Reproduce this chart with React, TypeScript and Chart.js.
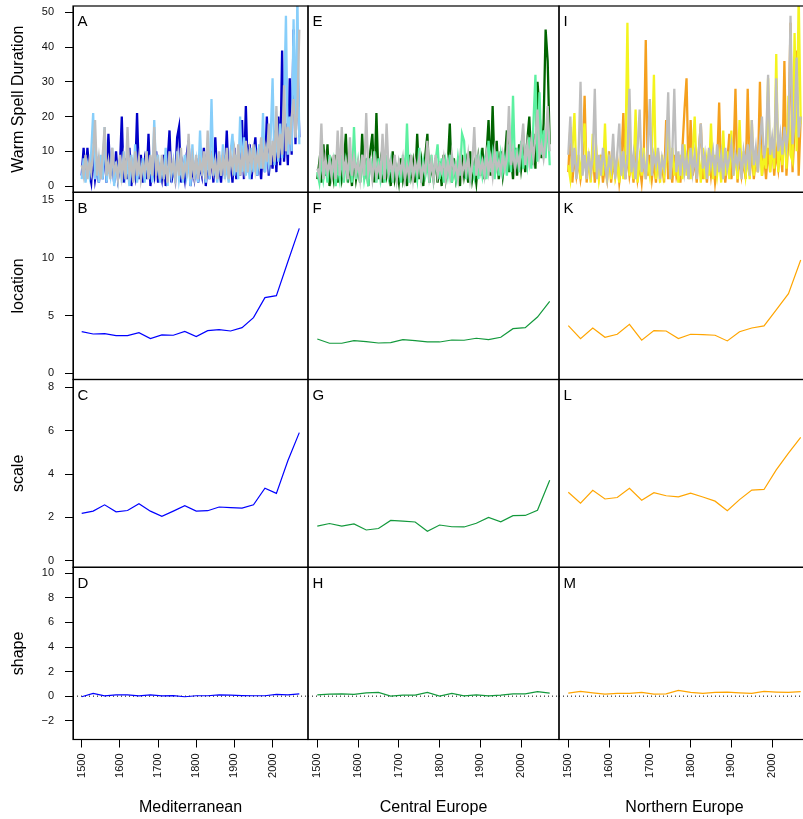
import React, { useEffect, useRef } from "react";
import { Chart, registerables } from "chart.js";

Chart.register(...registerables);

const FONT = "'Liberation Sans', Arial, Helvetica, sans-serif";
const W = 810;
const H = 819;
const X_MIN = 1477.2;
const X_MAX = 2092.8;

// ---------- categories ----------
const yearsDense = [
  1500, 1505, 1510, 1515, 1520, 1525, 1530, 1535, 1540, 1545,
  1550, 1555, 1560, 1565, 1570, 1575, 1580, 1585, 1590, 1595,
  1600, 1605, 1610, 1615, 1620, 1625, 1630, 1635, 1640, 1645,
  1650, 1655, 1660, 1665, 1670, 1675, 1680, 1685, 1690, 1695,
  1700, 1705, 1710, 1715, 1720, 1725, 1730, 1735, 1740, 1745,
  1750, 1755, 1760, 1765, 1770, 1775, 1780, 1785, 1790, 1795,
  1800, 1805, 1810, 1815, 1820, 1825, 1830, 1835, 1840, 1845,
  1850, 1855, 1860, 1865, 1870, 1875, 1880, 1885, 1890, 1895,
  1900, 1905, 1910, 1915, 1920, 1925, 1930, 1935, 1940, 1945,
  1950, 1955, 1960, 1965, 1970, 1975, 1980, 1985, 1990, 1995,
  2000, 2005, 2010, 2015, 2020, 2025, 2030, 2035, 2040, 2045,
  2050, 2055, 2060, 2065, 2070,
];
const yearsSmooth = [
  1500, 1530, 1560, 1590, 1620, 1650, 1680, 1710, 1740, 1770,
  1800, 1830, 1860, 1890, 1920, 1950, 1980, 2010, 2040, 2070,
];

// ---------- warm spell duration (top row) ----------
const medDark = [
  3, 11, 2, 11, 4, 1, 9, 2, 6, 1,
  8, 2, 12, 1, 15, 3, 7, 1, 10, 2,
  5, 20, 1, 8, 2, 11, 0, 6, 3, 21,
  2, 9, 1, 7, 2, 15, 0, 6, 3, 10,
  1, 5, 2, 9, 0, 7, 16, 1, 5, 2,
  14, 17, 1, 6, 2, 9, 13, 0, 5, 2,
  8, 1, 6, 3, 11, 0, 7, 2, 10, 1,
  14, 2, 6, 1, 9, 3, 16, 2, 8, 1,
  11, 2, 7, 3, 19, 2, 23, 4, 12, 2,
  9, 14, 3, 8, 2, 12, 4, 20, 3, 10,
  5, 16, 4, 20, 6, 39, 7, 18, 6, 31,
  9, 45, 12, 37, 14,
];
const medLight = [
  2, 8, 1, 6, 3, 10, 21, 2, 7, 1,
  9, 2, 17, 1, 6, 3, 11, 0, 7, 2,
  8, 1, 10, 3, 6, 0, 9, 2, 12, 1,
  6, 3, 8, 1, 10, 2, 7, 1, 19, 3,
  9, 1, 6, 2, 11, 0, 8, 3, 7, 1,
  10, 2, 6, 1, 9, 3, 7, 0, 12, 2,
  7, 1, 16, 3, 8, 1, 10, 2, 25, 3,
  7, 1, 9, 3, 12, 2, 6, 1, 10, 15,
  3, 9, 2, 20, 4, 14, 3, 8, 2, 11,
  4, 9, 3, 12, 5, 21, 4, 10, 6, 14,
  31, 6, 15, 7, 18, 8, 22, 49, 9, 20,
  10, 48, 14, 55, 12,
];
const medGrey = [
  6, 3, 9, 2, 7, 4, 10, 19, 3, 8,
  2, 9, 17, 3, 7, 2, 11, 4, 6, 2,
  9, 3, 8, 2, 17, 4, 7, 1, 10, 3,
  8, 2, 6, 4, 10, 2, 9, 3, 17, 4,
  7, 2, 9, 3, 6, 1, 10, 4, 7, 2,
  8, 3, 11, 2, 6, 4, 15, 2, 8, 3,
  9, 2, 7, 4, 10, 2, 16, 3, 8, 4,
  7, 2, 10, 3, 8, 4, 11, 2, 9, 5,
  10, 4, 12, 3, 9, 5, 13, 4, 10, 6,
  12, 5, 9, 6, 14, 5, 11, 7, 18, 6,
  13, 7, 23, 8, 15, 9, 29, 10, 17, 12,
  20, 25, 14, 22, 45,
];
const cenDark = [
  2, 7, 1, 12, 3, 12, 0, 6, 2, 9,
  1, 8, 2, 6, 15, 1, 7, 0, 9, 2,
  6, 1, 15, 2, 8, 0, 10, 15, 1, 21,
  2, 7, 1, 9, 3, 6, 0, 10, 2, 5,
  1, 8, 2, 6, 0, 9, 3, 7, 1, 15,
  2, 7, 0, 9, 15, 1, 6, 2, 8, 1,
  7, 0, 9, 2, 6, 18, 1, 8, 2, 6,
  0, 9, 3, 7, 1, 10, 2, 6, 1, 8,
  3, 11, 2, 9, 19, 3, 23, 4, 13, 2,
  10, 3, 8, 16, 4, 9, 2, 11, 3, 12,
  5, 10, 4, 13, 20, 6, 15, 5, 30, 22,
  8, 18, 45, 36, 12,
];
const cenLight = [
  4, 1, 8, 2, 6, 1, 9, 3, 7, 0,
  6, 2, 9, 1, 7, 3, 8, 1, 17, 2,
  7, 1, 9, 2, 6, 0, 8, 3, 10, 1,
  8, 2, 6, 1, 9, 3, 7, 1, 8, 2,
  6, 1, 9, 2, 18, 1, 7, 3, 6, 2,
  11, 1, 7, 3, 6, 1, 9, 2, 7, 12,
  2, 8, 1, 7, 3, 9, 1, 6, 2, 8,
  3, 15, 13, 2, 8, 1, 7, 3, 9, 2,
  8, 3, 7, 2, 13, 4, 9, 2, 10, 3,
  9, 4, 8, 3, 12, 4, 26, 5, 11, 4,
  13, 5, 10, 6, 14, 5, 18, 32, 7, 27,
  9, 16, 8, 20, 6,
];
const cenGrey = [
  5, 3, 18, 2, 8, 4, 7, 3, 9, 2,
  16, 3, 17, 4, 7, 2, 14, 3, 8, 4,
  7, 2, 9, 3, 21, 4, 7, 2, 8, 3,
  6, 3, 15, 2, 18, 4, 7, 3, 9, 2,
  7, 4, 8, 2, 6, 3, 9, 2, 7, 4,
  8, 2, 6, 4, 13, 3, 7, 2, 9, 3,
  6, 4, 8, 2, 7, 3, 9, 4, 6, 2,
  8, 3, 7, 4, 9, 2, 6, 17, 3, 8,
  4, 7, 3, 9, 4, 8, 3, 10, 5, 7,
  4, 9, 5, 8, 23, 6, 10, 5, 9, 6,
  11, 18, 6, 12, 7, 13, 8, 14, 22, 9,
  12, 8, 13, 23, 10,
];
const norOrange = [
  4, 17, 1, 9, 3, 7, 2, 6, 26, 1,
  8, 2, 11, 1, 7, 3, 9, 1, 6, 2,
  10, 1, 7, 3, 8, 1, 6, 21, 2, 9,
  3, 7, 1, 10, 2, 6, 1, 8, 42, 3,
  9, 2, 7, 1, 10, 3, 6, 1, 19, 2,
  8, 1, 9, 3, 6, 1, 11, 22, 31, 2,
  19, 3, 8, 1, 10, 18, 2, 7, 1, 9,
  3, 8, 1, 6, 24, 2, 9, 1, 7, 15,
  2, 8, 28, 1, 9, 3, 7, 2, 28, 3,
  10, 2, 8, 4, 30, 3, 9, 2, 11, 4,
  13, 3, 10, 5, 12, 4, 36, 3, 14, 47,
  4, 16, 39, 3, 20,
];
const norYellow = [
  6, 2, 10, 21, 3, 9, 2, 12, 18, 3,
  8, 1, 15, 4, 9, 2, 7, 3, 18, 1,
  9, 2, 11, 3, 7, 1, 10, 2, 8, 47,
  3, 9, 2, 22, 1, 8, 3, 11, 2, 7,
  3, 10, 32, 2, 8, 1, 9, 3, 7, 20,
  2, 11, 3, 8, 1, 9, 2, 12, 3, 8,
  2, 10, 20, 3, 9, 1, 11, 2, 8, 3,
  18, 2, 9, 3, 8, 1, 16, 3, 10, 2,
  16, 3, 9, 2, 19, 4, 10, 3, 8, 2,
  19, 3, 10, 4, 12, 3, 9, 5, 31, 4,
  12, 5, 38, 4, 14, 6, 16, 5, 26, 9,
  7, 44, 10, 55, 18,
];
const norGrey = [
  9, 20, 4, 11, 2, 8, 30, 3, 9, 2,
  10, 4, 8, 28, 2, 9, 3, 11, 6, 2,
  8, 5, 15, 2, 9, 18, 3, 10, 2, 8,
  28, 4, 9, 2, 11, 22, 4, 8, 2, 10,
  25, 3, 9, 6, 11, 2, 8, 5, 10, 27,
  2, 9, 28, 4, 10, 3, 12, 4, 8, 2,
  11, 4, 9, 2, 10, 18, 5, 9, 2, 11,
  6, 10, 3, 12, 4, 9, 2, 11, 5, 8,
  12, 3, 9, 6, 11, 2, 10, 6, 12, 3,
  19, 6, 11, 4, 13, 20, 8, 12, 32, 9,
  14, 8, 31, 10, 15, 9, 17, 11, 16, 49,
  12, 18, 37, 14, 20,
];

// ---------- GEV parameters ----------
const medLocation = [3.6, 3.4, 3.43, 3.26, 3.26, 3.52, 3.0, 3.32, 3.29, 3.63, 3.17, 3.69, 3.78, 3.66, 3.95, 4.82, 6.55, 6.72, 9.66, 12.55];
const cenLocation = [2.97, 2.6, 2.6, 2.82, 2.74, 2.62, 2.65, 2.91, 2.82, 2.71, 2.71, 2.88, 2.86, 3.03, 2.91, 3.12, 3.86, 3.95, 4.87, 6.23];
const norLocation = [4.12, 3.0, 3.92, 3.12, 3.38, 4.24, 2.86, 3.69, 3.66, 3.0, 3.38, 3.34, 3.29, 2.8, 3.6, 3.92, 4.1, 5.48, 6.89, 9.81];

const medScale = [2.19, 2.29, 2.58, 2.26, 2.32, 2.63, 2.29, 2.05, 2.29, 2.54, 2.29, 2.31, 2.48, 2.45, 2.43, 2.58, 3.35, 3.11, 4.61, 5.91];
const cenScale = [1.6, 1.72, 1.6, 1.7, 1.42, 1.49, 1.86, 1.83, 1.79, 1.36, 1.65, 1.57, 1.56, 1.73, 2.0, 1.8, 2.08, 2.09, 2.33, 3.71];
const norScale = [3.16, 2.66, 3.25, 2.85, 2.92, 3.34, 2.79, 3.14, 3.0, 2.95, 3.12, 2.94, 2.75, 2.31, 2.82, 3.26, 3.29, 4.19, 4.96, 5.69];

const medShape = [-0.05, 0.22, 0.03, 0.11, 0.11, 0.03, 0.11, 0.03, 0.05, -0.05, 0.03, 0.03, 0.11, 0.08, 0.05, 0.03, 0.03, 0.14, 0.11, 0.19];
const cenShape = [0.11, 0.16, 0.19, 0.14, 0.27, 0.3, 0.0, 0.08, 0.08, 0.3, 0.0, 0.22, 0.03, 0.11, 0.03, 0.08, 0.19, 0.19, 0.36, 0.25];
const norShape = [0.25, 0.38, 0.27, 0.16, 0.22, 0.22, 0.3, 0.16, 0.19, 0.47, 0.3, 0.22, 0.3, 0.33, 0.27, 0.22, 0.38, 0.33, 0.3, 0.36];

// ---------- ticks & labels ----------
const yearTicks = [1500, 1600, 1700, 1800, 1900, 2000];
const durationTicks = [0, 10, 20, 30, 40, 50];
const locationTicks = [0, 5, 10, 15];
const scaleTicks = [0, 2, 4, 6, 8];
const shapeTicks = [-2, 0, 2, 4, 6, 8, 10];
const rowTitles = ["Warm Spell Duration", "location", "scale", "shape"];
const colTitles = ["Mediterranean", "Central Europe", "Northern Europe"];
const panelLetters = [
  ["A", "E", "I"],
  ["B", "F", "K"],
  ["C", "G", "L"],
  ["D", "H", "M"],
];

// ---------- layout ----------
const columns = [
  { left: 73, right: 308 },
  { left: 308, right: 559 },
  { left: 559, right: 810 },
];
const rows = [
  { top: 6, bottom: 192.3, min: -1.8, max: 51.8, ticks: durationTicks },
  { top: 192.3, bottom: 379.5, min: -0.54, max: 15.67, ticks: locationTicks },
  { top: 379.5, bottom: 567.3, min: -0.3, max: 8.36, ticks: scaleTicks },
  { top: 567.3, bottom: 739.5, min: -3.53, max: 10.49, ticks: shapeTicks },
];

const GREY = "#BEBEBE";
const colColors = [
  { dark: "#0000C8", light: "#87CEFA", line: "#0000FF" },
  { dark: "#006400", light: "#5CF0A0", line: "#13993C" },
  { dark: "#F5A01E", light: "#F4F41E", line: "#FFA500" },
];
const denseSeries = [
  [medDark, medLight, medGrey],
  [cenDark, cenLight, cenGrey],
  [norOrange, norYellow, norGrey],
];
const paramSeries = [
  [medLocation, cenLocation, norLocation],
  [medScale, cenScale, norScale],
  [medShape, cenShape, norShape],
];

function denseSet(values: number[], color: string) {
  return {
    data: yearsDense.map((x, i) => ({ x, y: values[i] })),
    borderColor: color,
    borderWidth: 2.3,
    borderJoinStyle: "miter",
    pointRadius: 0,
    fill: false,
    tension: 0,
  };
}
function smoothSet(values: number[], color: string) {
  return {
    data: yearsSmooth.map((x, i) => ({ x, y: values[i] })),
    borderColor: color,
    borderWidth: 1.2,
    pointRadius: 0,
    fill: false,
    tension: 0,
  };
}

function datasetsFor(row: number, col: number) {
  const c = colColors[col];
  if (row === 0) {
    const [d, l, g] = denseSeries[col];
    return [denseSet(g, GREY), denseSet(l, c.light), denseSet(d, c.dark)];
  }
  const sets: any[] = [smoothSet(paramSeries[row - 1][col], c.line)];
  if (row === 3) {
    sets.push({
      data: [
        { x: X_MIN, y: 0 },
        { x: X_MAX, y: 0 },
      ],
      borderColor: "#000",
      borderWidth: 1,
      borderDash: [1, 3],
      pointRadius: 0,
      fill: false,
    });
  }
  return sets;
}

const framePlugin = {
  id: "panelFrame",
  afterDraw(chart: any, _args: any, opts: any) {
    const { ctx, chartArea: a } = chart;
    ctx.save();
    ctx.strokeStyle = "#000";
    ctx.lineWidth = 1.2;
    ctx.strokeRect(a.left, a.top, a.right - a.left, a.bottom - a.top);
    ctx.fillStyle = "#000";
    ctx.font = `15px ${FONT}`;
    ctx.textAlign = "left";
    ctx.textBaseline = "alphabetic";
    ctx.fillText(opts.letter, a.left + 4.5, a.top + 20.4);
    ctx.restore();
  },
};

const Y_AXIS_W = 68;

function buildConfig(row: number, col: number): any {
  const c = columns[col];
  const r = rows[row];
  const showY = col === 0;
  const showX = row === 3;
  return {
    type: "line",
    data: { datasets: datasetsFor(row, col) },
    plugins: [framePlugin],
    options: {
      animation: false,
      responsive: false,
      devicePixelRatio: 1,
      events: [],
      layout: {
        padding: {
          left: showY ? c.left - Y_AXIS_W : c.left,
          right: W - c.right,
          top: r.top,
          bottom: showX ? 0 : H - r.bottom,
        },
      },
      plugins: {
        legend: { display: false },
        tooltip: { enabled: false },
        title: { display: false },
        panelFrame: { letter: panelLetters[row][col] },
      },
      scales: {
        x: {
          type: "linear",
          min: X_MIN,
          max: X_MAX,
          display: showX,
          afterBuildTicks: (s: any) => {
            s.ticks = yearTicks.map((v) => ({ value: v }));
          },
          afterFit: (s: any) => {
            if (!showX) return;
            s.height = H - r.bottom;
            s.paddingLeft = 0;
            s.paddingRight = 0;
          },
          ticks: {
            autoSkip: false,
            minRotation: 90,
            maxRotation: 90,
            padding: 6,
            color: "#111",
            font: { family: FONT, size: 11 },
            callback: (v: any) => String(v),
          },
          grid: {
            drawOnChartArea: false,
            drawTicks: true,
            tickLength: 8,
            color: "#000",
            tickColor: "#000",
          },
          border: { display: true, color: "#000" },
          title: {
            display: true,
            text: colTitles[col],
            color: "#000",
            font: { family: FONT, size: 16 },
            padding: { top: 0, bottom: 2 },
          },
        },
        y: {
          type: "linear",
          min: r.min,
          max: r.max,
          display: showY,
          afterBuildTicks: (s: any) => {
            s.ticks = r.ticks.map((v) => ({ value: v }));
          },
          afterFit: (s: any) => {
            if (!showY) return;
            s.width = Y_AXIS_W;
            s.paddingTop = 0;
            s.paddingBottom = 0;
          },
          ticks: {
            autoSkip: false,
            padding: 11,
            color: "#111",
            font: { family: FONT, size: 11 },
            callback: (v: any) => (v < 0 ? "\u2212" + Math.abs(v) : String(v)),
          },
          grid: {
            drawOnChartArea: false,
            drawTicks: true,
            tickLength: 8,
            color: "#000",
            tickColor: "#000",
          },
          border: { display: true, color: "#000" },
          title: {
            display: true,
            text: rowTitles[row],
            color: "#000",
            font: { family: FONT, size: 16 },
            padding: { top: 4, bottom: 0 },
          },
        },
      },
    },
  };
}

function Panel({ row, col }: { row: number; col: number }) {
  const ref = useRef<HTMLCanvasElement>(null);
  useEffect(() => {
    const chart = new Chart(ref.current as HTMLCanvasElement, buildConfig(row, col));
    return () => chart.destroy();
  }, [row, col]);
  return (
    <canvas
      ref={ref}
      width={W}
      height={H}
      style={{ position: "absolute", left: 0, top: 0, width: W, height: H }}
    />
  );
}

export default function App() {
  const cells: { row: number; col: number }[] = [];
  for (let row = 0; row < 4; row++) {
    for (let col = 0; col < 3; col++) cells.push({ row, col });
  }
  return (
    <div
      style={{
        position: "fixed",
        left: 0,
        top: 0,
        width: 803,
        height: 819,
        overflow: "hidden",
        background: "#fff",
      }}
    >
      {cells.map((c) => (
        <Panel key={`${c.row}-${c.col}`} row={c.row} col={c.col} />
      ))}
    </div>
  );
}
